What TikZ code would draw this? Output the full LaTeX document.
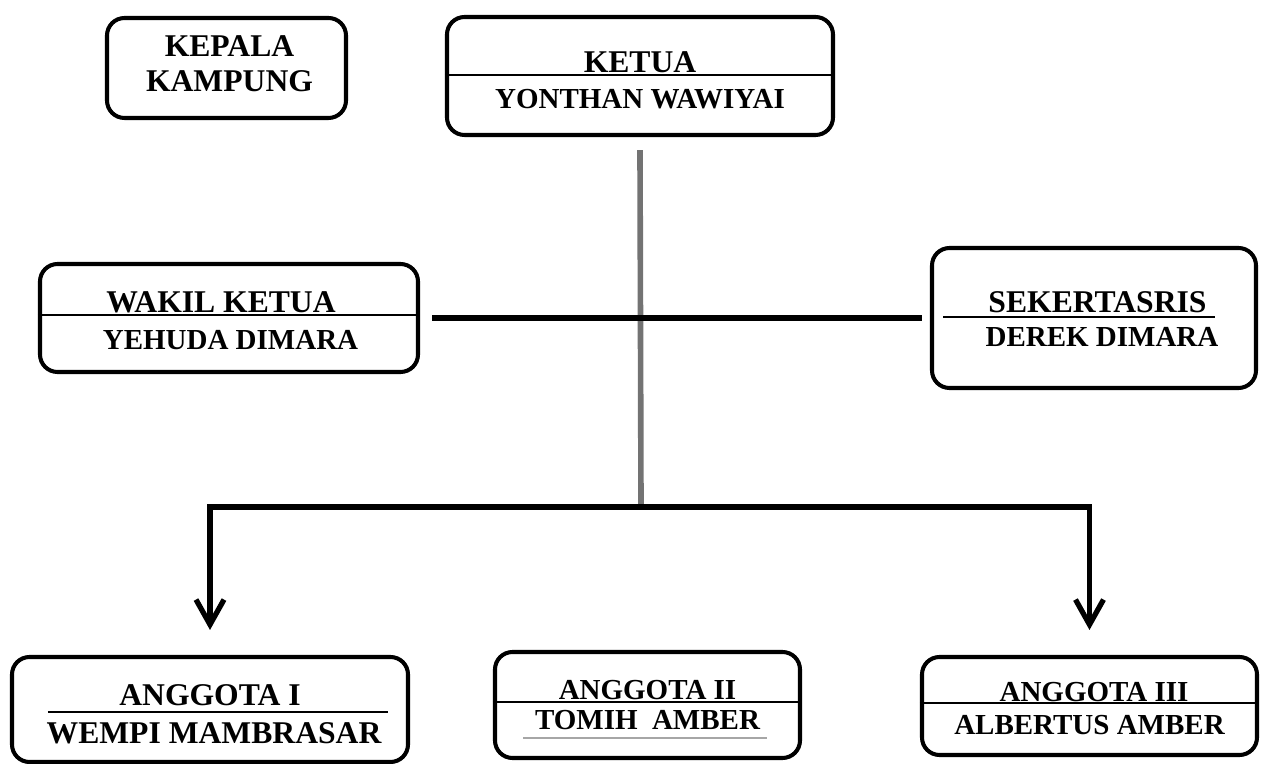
\documentclass[tikz,border=0pt]{standalone}
\usepackage{fontspec}
\setmainfont{Liberation Serif}
\usetikzlibrary{arrows.meta,calc}

\begin{document}
\begin{tikzpicture}[
    post/.style={draw=black,line width=2.3pt,rounded corners=0.35cm},
    posttitle/.style={font=\fontsize{18}{20}\selectfont\bfseries,inner sep=0pt},
    person/.style={font=\fontsize{16.5}{19}\selectfont\bfseries,inner sep=0pt},
    divider/.style={line width=0.8pt},
    stem/.style={line width=3.2pt,draw=black!55},
    link/.style={line width=3pt},
    flow/.style={line width=3pt,-{Straight Barb[length=5mm,width=5.6mm]}}
  ]
  \useasboundingbox (0,0) rectangle (25.36,-15.28);

  % boxes
  \node[post,minimum width=4.78cm,minimum height=2cm] (kepala) at (4.53,-1.36) {};
  \node[post,minimum width=7.72cm,minimum height=2.36cm] (ketua) at (12.8,-1.52) {};
  \node[post,minimum width=7.56cm,minimum height=2.16cm] (wakil) at (4.58,-6.36) {};
  \node[post,minimum width=6.48cm,minimum height=2.8cm] (sek) at (21.88,-6.36) {};
  \node[post,minimum width=7.92cm,minimum height=2.1cm] (ang1) at (4.2,-14.19) {};
  \node[post,minimum width=6.1cm,minimum height=2.12cm] (ang2) at (12.95,-14.1) {};
  \node[post,minimum width=6.7cm,minimum height=1.96cm] (ang3) at (21.79,-14.12) {};

  % texts
  \node[posttitle] (kepalaA) at ($(kepala.center)+(0.06,0.44)$) {KEPALA};
  \node[posttitle] (kepalaB) at ($(kepala.center)+(0.06,-0.26)$) {KAMPUNG};
  \node[posttitle] (ketuaA) at ($(ketua.center)+(0,0.28)$) {KETUA};
  \node[person] (ketuaB) at ($(ketua.center)+(0,-0.47)$) {YONTHAN WAWIYAI};
  \node[posttitle] (wakilA) at ($(wakil.center)+(-0.16,0.32)$) {WAKIL KETUA};
  \node[person] (wakilB) at ($(wakil.center)+(0.03,-0.44)$) {YEHUDA DIMARA};
  \node[posttitle] (sekA) at ($(sek.center)+(0.07,0.32)$) {SEKERTASRIS};
  \node[person] (sekB) at ($(sek.center)+(0.16,-0.38)$) {DEREK DIMARA};
  \node[posttitle] (ang1A) at ($(ang1.center)+(0,0.29)$) {ANGGOTA I};
  \node[posttitle] (ang1B) at ($(ang1.center)+(0.08,-0.47)$) {WEMPI MAMBRASAR};
  \node[person] (ang2A) at ($(ang2.center)+(0,0.3)$) {ANGGOTA II};
  \node[person] (ang2B) at ($(ang2.center)+(0,-0.3)$) {TOMIH\ \ AMBER};
  \node[person] (ang3A) at ($(ang3.center)+(0.09,0.28)$) {ANGGOTA III};
  \node[person] (ang3B) at ($(ang3.center)+(0,-0.38)$) {ALBERTUS AMBER};

  % dividers
  \draw[divider] ($(ketua.west)+(0,0.02)$) -- ($(ketua.east)+(0,0.02)$);
  \draw[divider] ($(wakil.west)+(0,0.06)$) -- ($(wakil.east)+(0,0.06)$);
  \draw[divider] ($(sek.center)+(-3.02,0.02)$) -- ($(sek.center)+(2.42,0.02)$);
  \draw[divider] ($(ang1.center)+(-3.24,-0.05)$) -- ($(ang1.center)+(3.56,-0.05)$);
  \draw[divider] ($(ang2.west)+(0,0.06)$) -- ($(ang2.east)+(0,0.06)$);
  \draw[divider,draw=black!35] ($(ang2.center)+(-2.49,-0.66)$) -- ($(ang2.center)+(2.39,-0.66)$);
  \draw[divider] ($(ang3.west)+(0,0.06)$) -- ($(ang3.east)+(0,0.06)$);

  % connectors
  \coordinate (hub) at (12.82,-10.14);
  \draw[stem] ([yshift=-0.26cm]ketua.south) -- (hub);
  \draw[link] ([xshift=0.24cm]wakil.east) -- ([xshift=-0.16cm]sek.west);
  \draw[flow] (hub) -| ([yshift=0.5cm]ang1.north);
  \draw[flow] (hub) -| ([yshift=0.5cm]ang3.north);
\end{tikzpicture}
\end{document}
